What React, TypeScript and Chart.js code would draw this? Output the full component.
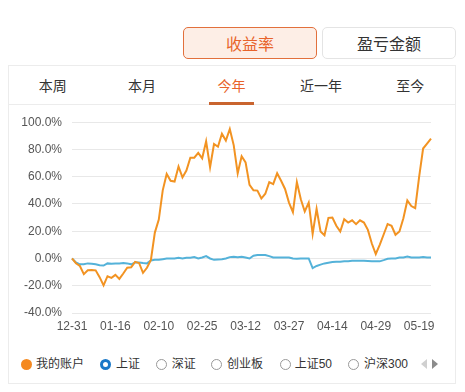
import React, { useEffect, useRef } from "react";
import { Chart, registerables } from "chart.js";

Chart.register(...registerables);

const dates: string[] = [
  "12-31", "01-02", "01-03", "01-06", "01-07", "01-08", "01-09", "01-10", "01-13", "01-14", "01-15",
  "01-16", "01-17", "01-20", "01-21", "01-22", "01-23", "02-03", "02-04", "02-05", "02-06", "02-07",
  "02-10", "02-11", "02-12", "02-13", "02-14", "02-17", "02-18", "02-19", "02-20", "02-21", "02-24",
  "02-25", "02-26", "02-27", "03-02", "03-03", "03-04", "03-05", "03-06", "03-09", "03-10", "03-11",
  "03-12", "03-13", "03-16", "03-17", "03-18", "03-19", "03-20", "03-23", "03-24", "03-25", "03-26",
  "03-27", "03-30", "03-31", "04-01", "04-02", "04-03", "04-07", "04-08", "04-09", "04-10", "04-13",
  "04-14", "04-15", "04-16", "04-17", "04-20", "04-21", "04-22", "04-23", "04-24", "04-27", "04-28",
  "04-29", "04-30", "05-06", "05-07", "05-08", "05-11", "05-12", "05-13", "05-14", "05-15", "05-18",
  "05-19", "05-20", "05-21", "05-22",
];

const xTickLabels: string[] = ["12-31", "01-16", "02-10", "02-25", "03-12", "03-27", "04-14", "04-29", "05-19"];

const myAccount: number[] = [
  0, -3.5, -5.5, -11.5, -8.7, -8.5, -8.7, -13.7, -19.7, -13, -14.2,
  -12, -15, -11, -6.8, -6.5, -2.5, -3.3, -10.5, -6.8, -1, 19,
  28.5, 50, 62, 57, 56.5, 67.5, 59.5, 64.5, 74, 74, 77.5,
  73.5, 86, 67, 84, 82, 91.5, 86.5, 95, 83, 62.5, 75,
  70.5, 54, 50, 49.8, 44, 47.5, 56, 54.5, 62.5, 57, 51,
  41, 34, 56, 43.5, 34.5, 41, 18, 36.4, 19.8, 17, 29.8,
  30, 24, 19.8, 28.8, 26.4, 28, 25.2, 28, 26.4, 21, 11,
  3.3, 10, 17.6, 25.3, 24, 17.4, 19.8, 29.5, 42.6, 38.5, 36.9,
  60, 80.7, 84.3, 88,
];

const shanghai: number[] = [
  0, -2.9, -4.3, -4.3, -3.6, -3.8, -4.3, -5, -5.2, -3.6, -3.8,
  -3.6, -3.6, -3.4, -3.6, -4.3, -2.9, -2.9, -3.3, -3.6, -1.4, -1,
  -1, -0.5, 0, 0, 0, 0.5, 0, 0.5, 0.5, 1, 0,
  0.7, 1.7, 0, -1, -0.7, -0.5, 0, 1, 1.2, 1, 1.2,
  0.7, 0, 2, 2.6, 2.6, 2.6, 1.7, 0.7, 0.7, 0.7, 0.7,
  0.7, 0, -0.2, 0, 0, 0, -7, -5.5, -4.5, -3.6, -3.1,
  -2.6, -2.4, -2.4, -2.1, -2.1, -1.7, -1.7, -1.7, -1.7, -1.9, -2.1,
  -2.1, -2.1, -1.2, -0.2, 0, 0, 0.7, 0.7, 1.4, 0.7, 0.7,
  0.7, 1, 0.7, 0.7,
];

const tabs: string[] = ["本周", "本月", "今年", "近一年", "至今"];
const activeTab = "今年";

const CJK = "'Noto Sans CJK SC', 'Liberation Sans', sans-serif";
const LATIN_CJK = "'Liberation Sans', 'Noto Sans CJK SC', sans-serif";

function ChartCanvas() {
  const ref = useRef<HTMLCanvasElement | null>(null);
  useEffect(() => {
    if (!ref.current) return;
    const chart = new Chart(ref.current, {
      type: "line",
      data: {
        labels: dates,
        datasets: [
          {
            label: "我的账户",
            data: myAccount,
            borderColor: "#f29322",
            borderWidth: 2,
            pointRadius: 0,
            tension: 0,
            fill: false,
          },
          {
            label: "上证",
            data: shanghai,
            borderColor: "#54b2d9",
            borderWidth: 2,
            pointRadius: 0,
            tension: 0,
            fill: false,
          },
        ],
      },
      options: {
        animation: false,
        responsive: false,
        devicePixelRatio: 1,
        layout: { padding: { left: 10, right: 34, top: 12, bottom: 10 } },
        plugins: { legend: { display: false }, tooltip: { enabled: false } },
        scales: {
          x: {
            type: "category",
            grid: { display: false, drawTicks: false },
            border: { display: false },
            ticks: {
              autoSkip: false,
              maxRotation: 0,
              minRotation: 0,
              padding: 6,
              color: "#555",
              font: { family: LATIN_CJK, size: 12 },
              callback: (_v: any, idx: number) => (xTickLabels.includes(dates[idx]) ? dates[idx] : ""),
            },
            afterFit: (scale: any) => {
              scale.height = 22;
            },
          },
          y: {
            min: -40,
            max: 100,
            grid: { color: "#e8e8e8", drawTicks: false, lineWidth: 1 },
            border: { display: false },
            ticks: {
              stepSize: 20,
              padding: 10,
              color: "#555",
              font: { family: LATIN_CJK, size: 12 },
              callback: (v: any) => Number(v).toFixed(1) + "%",
            },
            afterFit: (scale: any) => {
              scale.width = 62;
            },
          },
        },
      },
    });
    return () => chart.destroy();
  }, []);
  return <canvas ref={ref} width={465} height={240} style={{ display: "block", width: 465, height: 240 }} />;
}

const legendItems = [
  { name: "我的账户", dot: 26, text: 36, kind: "filled" },
  { name: "上证", dot: 105.3, text: 116, kind: "blue" },
  { name: "深证", dot: 161.7, text: 171.7, kind: "ring" },
  { name: "创业板", dot: 216.7, text: 227, kind: "ring" },
  { name: "上证50", dot: 285, text: 294.7, kind: "ring" },
  { name: "沪深300", dot: 353.3, text: 364, kind: "ring" },
];

export default function App() {
  return (
    <div style={{ position: "absolute", left: 0, top: 0, width: 465, height: 392, background: "#fff", overflow: "hidden" }}>
      {/* buttons */}
      <div
        style={{
          position: "absolute", left: 183, top: 27, width: 134, height: 32, boxSizing: "border-box",
          border: "1px solid #e2703c", borderRadius: 5, background: "#fdeee6", color: "#e8632b",
          fontFamily: CJK, fontSize: 16, display: "flex", alignItems: "center", justifyContent: "center",
        }}
      >
        收益率
      </div>
      <div
        style={{
          position: "absolute", left: 322, top: 27, width: 134, height: 32, boxSizing: "border-box",
          border: "1px solid #e4e4e4", borderRadius: 5, background: "#fff", color: "#333",
          fontFamily: CJK, fontSize: 16, display: "flex", alignItems: "center", justifyContent: "center",
        }}
      >
        盈亏金额
      </div>

      {/* card */}
      <div
        style={{
          position: "absolute", left: 8, top: 65, width: 448, height: 319, boxSizing: "border-box",
          border: "1px solid #ececec",
        }}
      />
      {/* tabs */}
      <div style={{ position: "absolute", left: 8, top: 65, width: 447, height: 39, display: "flex" }}>
        {tabs.map((t) => (
          <div
            key={t}
            style={{
              flex: 1, display: "flex", alignItems: "center", justifyContent: "center",
              fontFamily: CJK, fontSize: 14, color: t === activeTab ? "#e8632b" : "#333",
            }}
          >
            {t}
          </div>
        ))}
      </div>
      <div style={{ position: "absolute", left: 8, top: 104, width: 448, height: 1, background: "#ececec" }} />
      <div style={{ position: "absolute", left: 209, top: 102, width: 45, height: 2.5, background: "#c9642f" }} />

      {/* chart */}
      <div style={{ position: "absolute", left: 0, top: 105, width: 465, height: 240 }}>
        <ChartCanvas />
      </div>

      {/* legend */}
      {legendItems.map((it) => (
        <React.Fragment key={it.name}>
          <div
            style={{
              position: "absolute", left: it.dot - 5.5, top: 358.5, width: 11, height: 11, boxSizing: "border-box",
              borderRadius: "50%",
              background: it.kind === "filled" ? "#f5891f" : "#fff",
              border: it.kind === "filled" ? "none" : it.kind === "blue" ? "3px solid #1a78c8" : "1px solid #999",
            }}
          />
          <div
            style={{
              position: "absolute", left: it.text, top: 356, height: 16, lineHeight: "16px",
              fontFamily: LATIN_CJK, fontSize: 12, color: "#333", whiteSpace: "nowrap",
            }}
          >
            {it.name}
          </div>
        </React.Fragment>
      ))}
      <div
        style={{
          position: "absolute", left: 421, top: 359, width: 0, height: 0,
          borderTop: "5px solid transparent", borderBottom: "5px solid transparent", borderRight: "6px solid #d0d0d0",
        }}
      />
      <div
        style={{
          position: "absolute", left: 431.5, top: 359, width: 0, height: 0,
          borderTop: "5px solid transparent", borderBottom: "5px solid transparent", borderLeft: "6px solid #8c8c8c",
        }}
      />
    </div>
  );
}
